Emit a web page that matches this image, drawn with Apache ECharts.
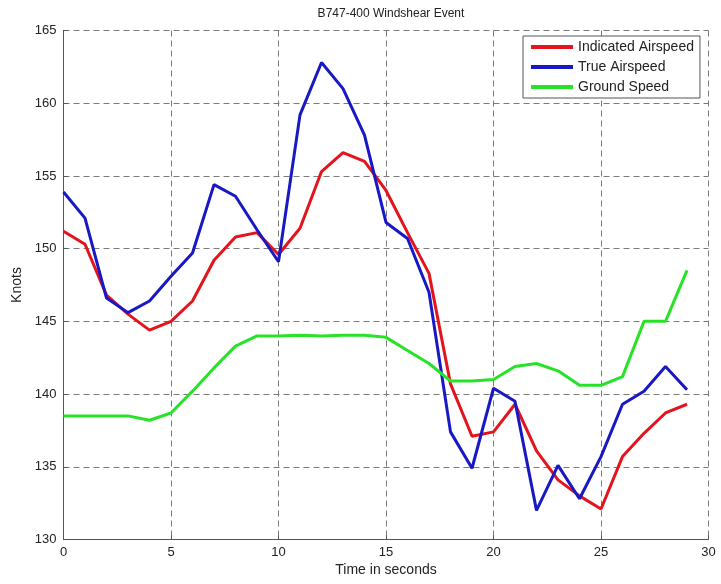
<!DOCTYPE html>
<html>
<head>
<meta charset="utf-8">
<script src="https://cdn.jsdelivr.net/npm/echarts@6/dist/echarts.min.js"></script>
<style>
  html, body { margin: 0; padding: 0; background: #fff; }
  #chart { width: 721px; height: 584px; }
</style>
</head>
<body>
<div id="chart"></div>
<script>
// time in seconds (0..29)
const seconds = [0,1,2,3,4,5,6,7,8,9,10,11,12,13,14,15,16,17,18,19,20,21,22,23,24,25,26,27,28,29];

// knots
const indicated = [151.2,150.3,146.8,145.5,144.4,145.0,146.4,149.2,150.8,151.1,149.6,151.4,155.3,156.6,156.0,154.0,151.1,148.3,140.7,137.1,137.4,139.3,136.1,134.1,133.0,132.1,135.7,137.3,138.7,139.3];
const trueAir = [153.9,152.1,146.6,145.6,146.4,148.1,149.7,154.4,153.6,151.3,149.1,159.2,162.8,161.0,157.8,151.8,150.7,147.0,137.4,134.9,140.4,139.5,132.0,135.1,132.8,135.7,139.3,140.2,141.9,140.3];
const ground = [138.5,138.5,138.5,138.5,138.2,138.7,140.2,141.8,143.3,144.0,144.0,144.05,144.0,144.05,144.05,143.9,143.0,142.1,140.9,140.9,141.0,141.9,142.1,141.6,140.6,140.6,141.2,145.0,145.0,148.5];

const seriesNames = ['Indicated Airspeed', 'True Airspeed', 'Ground Speed'];
const seriesColors = ['#e3141c', '#1818c4', '#28e228'];

function pairs(vals) {
  return vals.map(function (v, i) { return [seconds[i], v]; });
}

var chart = echarts.init(document.getElementById('chart'));

var gridLine = { show: true, lineStyle: { color: '#7a7a7a', type: [6, 4], width: 1 } };
var font = 'Liberation Sans, Arial, sans-serif';

chart.setOption({
  animation: false,
  title: {
    text: 'B747-400 Windshear Event',
    left: 386, top: 3, textAlign: 'center',
    textStyle: { fontFamily: font, fontSize: 12, fontWeight: 'normal', color: '#222' }
  },
  legend: {
    orient: 'vertical',
    left: 523, top: 36,
    padding: [4, 6, 4, 8],
    itemGap: 6,
    itemWidth: 42, itemHeight: 4,
    icon: 'rect',
    backgroundColor: '#fff',
    borderColor: '#555', borderWidth: 1,
    textStyle: { fontFamily: font, fontSize: 14, color: '#222' },
    data: seriesNames
  },
  grid: { left: 63.5, right: 12.5, top: 30.5, bottom: 44.5 },
  xAxis: {
    type: 'value', min: 0, max: 30, interval: 5,
    name: 'Time in seconds', nameLocation: 'middle', nameGap: 22,
    nameTextStyle: { fontFamily: font, fontSize: 14, color: '#222' },
    axisLine: { show: true, onZero: false, lineStyle: { color: '#555', width: 1 } },
    axisTick: { show: true, inside: true, length: 4, lineStyle: { color: '#555' } },
    axisLabel: { fontFamily: font, fontSize: 13, color: '#222', margin: 6 },
    splitLine: gridLine
  },
  yAxis: {
    type: 'value', min: 130, max: 165, interval: 5,
    name: 'Knots', nameLocation: 'middle', nameGap: 38, nameRotate: 90,
    nameTextStyle: { fontFamily: font, fontSize: 14, color: '#222' },
    axisLine: { show: true, lineStyle: { color: '#555', width: 1 } },
    axisTick: { show: true, inside: true, length: 4, lineStyle: { color: '#555' } },
    axisLabel: { fontFamily: font, fontSize: 13, color: '#222', margin: 7 },
    splitLine: gridLine
  },
  series: [indicated, trueAir, ground].map(function (vals, k) {
    return {
      name: seriesNames[k],
      type: 'line',
      data: pairs(vals),
      showSymbol: false,
      color: seriesColors[k],
      lineStyle: { width: 3, color: seriesColors[k] },
      z: 3 + k
    };
  })
});
</script>
</body>
</html>
